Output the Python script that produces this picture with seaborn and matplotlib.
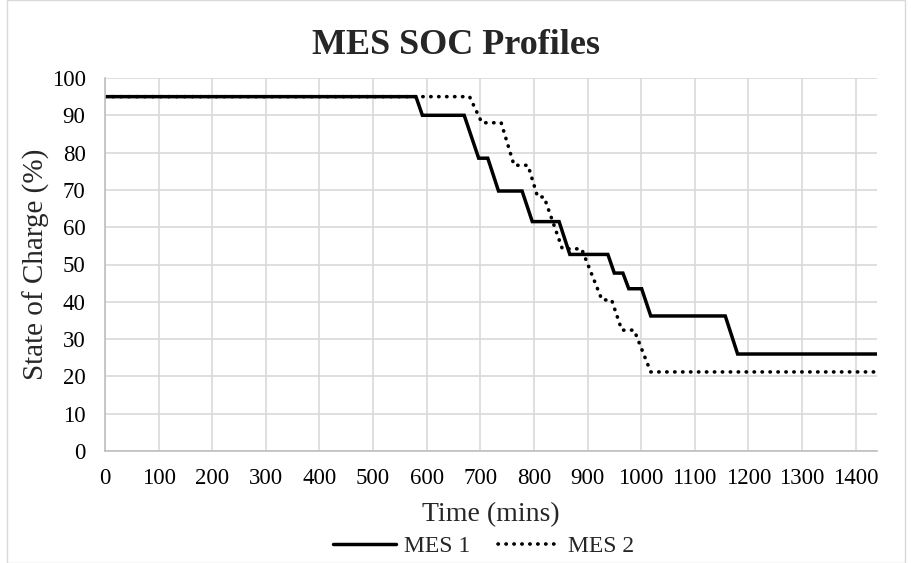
import matplotlib
matplotlib.use("Agg")
import matplotlib.pyplot as plt
import seaborn as sns
import pandas as pd
from matplotlib.lines import Line2D

sns.set_theme(style="white")
plt.rcParams['font.family'] = ['Liberation Serif', 'DejaVu Serif']

# ---- data ----
mes1_time = [0, 580, 592, 670, 697, 714, 734, 778, 797, 847, 867, 938, 950, 966, 977, 1001, 1018, 1157, 1180, 1440]
mes1_soc = [95, 95, 90, 90, 78.5, 78.5, 69.7, 69.7, 61.5, 61.5, 52.7, 52.7, 47.7, 47.7, 43.5, 43.5, 36.2, 36.2, 26, 26]
mes2_time = [0, 680, 703, 739, 763, 789, 807, 819, 853, 889, 927, 945, 964, 987, 1018, 1440]
mes2_soc = [95, 95, 88, 88, 76.6, 76.6, 68.1, 68.1, 54.2, 54.2, 40.5, 40.5, 32.4, 32.4, 21.2, 21.2]
series_names = ["MES 1", "MES 2"]
x_ticks = list(range(0, 1401, 100))
y_ticks = list(range(0, 101, 10))

df1 = pd.DataFrame({"time": mes1_time, "soc": mes1_soc})
df2 = pd.DataFrame({"time": mes2_time, "soc": mes2_soc})

W, H = 912, 563
fig = plt.figure(figsize=(W / 100, H / 100), dpi=100)
fig.patch.set_facecolor("white")
L, R, T, B = 105, 877, 78, 451
ax = fig.add_axes([L / W, 1 - B / H, (R - L) / W, (B - T) / H])

DOT = (0, (0.1, 2.1))
sns.lineplot(data=df1, x="time", y="soc", ax=ax, color="black", linewidth=2.5,
             solid_joinstyle="miter", estimator=None, sort=False)
sns.lineplot(data=df2, x="time", y="soc", ax=ax, color="black", linewidth=2.6,
             estimator=None, sort=False)
ax.lines[1].set_linestyle(DOT)
ax.lines[1].set_dash_capstyle("round")

ax.set_xlim(0, 1440)
ax.set_ylim(0, 100)
ax.set_xticks(x_ticks)
ax.set_yticks(y_ticks)
ax.set_xticklabels([str(t) for t in x_ticks])
ax.set_yticklabels([str(t) for t in y_ticks])
ax.tick_params(axis="both", length=0, labelsize=16.5, colors="black")
ax.tick_params(axis="x", pad=12)
ax.tick_params(axis="y", pad=14)
ax.grid(True, color="#d9d9d9", linewidth=1.2)
ax.set_axisbelow(True)
for s in ["top", "right"]:
    ax.spines[s].set_visible(False)
for s in ["left", "bottom"]:
    ax.spines[s].set_color("#bfbfbf")
    ax.spines[s].set_linewidth(1.2)

ax.set_xlabel("")
ax.set_ylabel("")
fig.text(0.5, 1 - 46 / H, "MES SOC Profiles", ha="center", va="center",
         fontsize=26, fontweight="bold")
fig.text(491 / W, 1 - 515 / H, "Time (mins)", ha="center", va="center", fontsize=20)
fig.text(36 / W, 1 - 264 / H, "State of Charge (%)", ha="center", va="center",
         fontsize=21, rotation=90)

handles = [Line2D([], [], color="black", linewidth=2.5),
           Line2D([], [], color="black", linewidth=2.6, linestyle=DOT,
                  dash_capstyle="round")]
fig.legend(handles, series_names, loc="center", bbox_to_anchor=(484 / W, 1 - 546 / H),
           ncol=2, frameon=False, fontsize=17, handlelength=2.65, columnspacing=1.15,
           handletextpad=0.35, borderpad=0, borderaxespad=0)

# chart area border
fig.add_artist(plt.Rectangle((7 / W, 0), (905 - 7) / W, 1, transform=fig.transFigure,
                             fill=False, edgecolor="#d9d9d9", linewidth=1))

fig.savefig("out.png", dpi=100, facecolor="white")
